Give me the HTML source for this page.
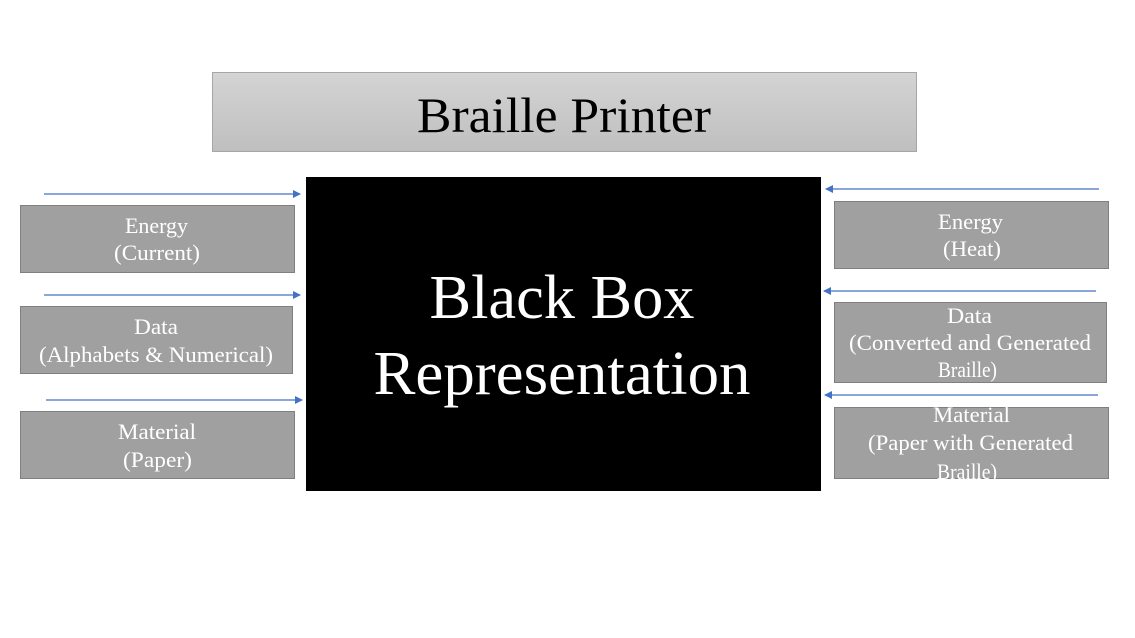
<!DOCTYPE html>
<html><head><style>html,body{margin:0;padding:0;background:#fff;}svg{display:block}</style></head>
<body>
<svg width="1135" height="638" viewBox="0 0 1135 638" xmlns="http://www.w3.org/2000/svg" font-family="Liberation Serif, serif">
<defs>
<linearGradient id="g" x1="0" y1="0" x2="0" y2="1"><stop offset="0" stop-color="#d4d4d4"/><stop offset="1" stop-color="#bfbfbf"/></linearGradient>
<marker id="a" markerWidth="8" markerHeight="8" refX="7" refY="4" orient="auto" markerUnits="userSpaceOnUse"><path d="M0,0 L8,4 L0,8 z" fill="#4472c4"/></marker>
</defs>
<rect x="212.5" y="72.5" width="704" height="79" fill="url(#g)" stroke="#a6a6a6"/>
<text x="564" y="132" font-size="50" text-anchor="middle" textLength="294" lengthAdjust="spacingAndGlyphs">Braille Printer</text>
<rect x="306" y="177" width="515" height="314" fill="#000"/>
<text x="562" y="318" font-size="62" fill="#fff" text-anchor="middle" textLength="265" lengthAdjust="spacingAndGlyphs">Black Box</text>
<text x="562" y="394" font-size="62" fill="#fff" text-anchor="middle" textLength="377" lengthAdjust="spacingAndGlyphs">Representation</text>
<g stroke="#4472c4" stroke-width="1.2" marker-end="url(#a)">
<line x1="44" y1="194" x2="300" y2="194"/>
<line x1="44" y1="295" x2="300" y2="295"/>
<line x1="46" y1="400" x2="302" y2="400"/>
<line x1="1099" y1="189" x2="826" y2="189"/>
<line x1="1096" y1="291" x2="824" y2="291"/>
<line x1="1098" y1="395" x2="825" y2="395"/>
</g>
<g fill="#a0a0a0" stroke="#7f7f7f">
<rect x="20.5" y="205.5" width="274" height="67"/>
<rect x="20.5" y="306.5" width="272" height="67"/>
<rect x="20.5" y="411.5" width="274" height="67"/>
<rect x="834.5" y="201.5" width="274" height="67"/>
<rect x="834.5" y="302.5" width="272" height="80"/>
<rect x="834.5" y="407.5" width="274" height="71"/>
</g>
<g fill="#fff" font-size="22" lengthAdjust="spacingAndGlyphs">
<text x="125" y="233" textLength="63" lengthAdjust="spacingAndGlyphs">Energy</text>
<text x="114" y="260" textLength="86" lengthAdjust="spacingAndGlyphs">(Current)</text>
<text x="134" y="334" textLength="44" lengthAdjust="spacingAndGlyphs">Data</text>
<text x="39" y="362" textLength="234" lengthAdjust="spacingAndGlyphs">(Alphabets &amp; Numerical)</text>
<text x="118" y="439" textLength="78" lengthAdjust="spacingAndGlyphs">Material</text>
<text x="123" y="467" textLength="69" lengthAdjust="spacingAndGlyphs">(Paper)</text>
<text x="938" y="229" textLength="65" lengthAdjust="spacingAndGlyphs">Energy</text>
<text x="943" y="256" textLength="58" lengthAdjust="spacingAndGlyphs">(Heat)</text>
<text x="947" y="323" textLength="45" lengthAdjust="spacingAndGlyphs">Data</text>
<text x="849" y="350" textLength="242" lengthAdjust="spacingAndGlyphs">(Converted and Generated</text>
<text x="938" y="377" textLength="59" lengthAdjust="spacingAndGlyphs">Braille)</text>
<text x="933" y="422" textLength="77" lengthAdjust="spacingAndGlyphs">Material</text>
<text x="868" y="450" textLength="205" lengthAdjust="spacingAndGlyphs">(Paper with Generated</text>
<text x="937" y="479" textLength="60" lengthAdjust="spacingAndGlyphs">Braille)</text>
</g>
<rect x="834" y="479" width="276" height="10" fill="#fff"/>
</svg>
</body></html>
